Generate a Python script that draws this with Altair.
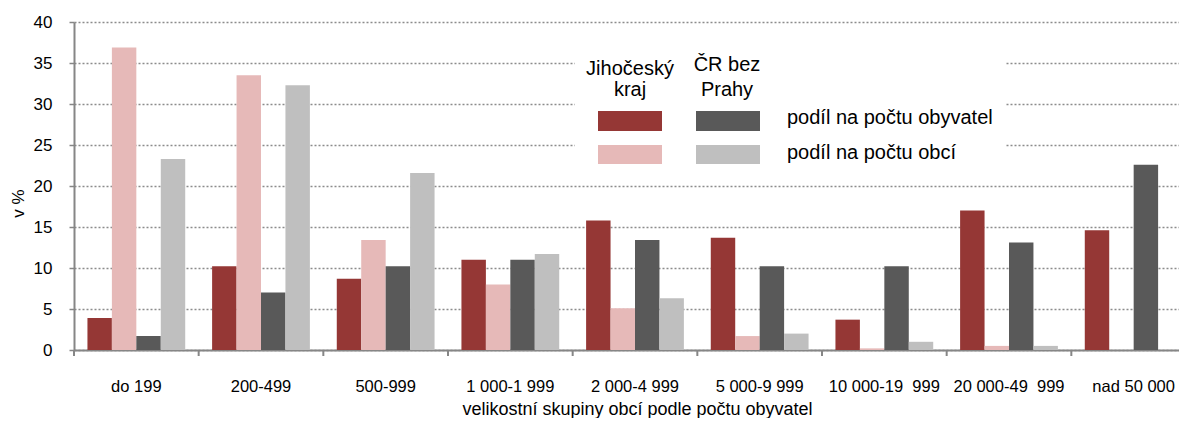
import altair as alt
import pandas as pd

categories = ["do 199", "200-499", "500-999", "1 000-1 999", "2 000-4 999",
              "5 000-9 999", "10 000-19\u00a0 999", "20 000-49\u00a0 999", "nad 50 000"]
series = ["Jihočeský kraj – podíl na počtu obyvatel",
          "Jihočeský kraj – podíl na počtu obcí",
          "ČR bez Prahy – podíl na počtu obyvatel",
          "ČR bez Prahy – podíl na počtu obcí"]
colors = ["#953735", "#E6B9B8", "#595959", "#BFBFBF"]

jc_obyv = [3.9, 10.2, 8.7, 11.0, 15.8, 13.7, 3.7, 17.0, 14.6]
jc_obce = [36.9, 33.5, 13.4, 8.0, 5.1, 1.7, 0.2, 0.5, 0.0]
cr_obyv = [1.7, 7.0, 10.2, 11.0, 13.4, 10.2, 10.2, 13.1, 22.6]
cr_obce = [23.3, 32.3, 21.6, 11.7, 6.3, 2.0, 1.0, 0.5, 0.0]

rows = []
for vals, s in zip([jc_obyv, jc_obce, cr_obyv, cr_obce], series):
    for c, v in zip(categories, vals):
        rows.append({"cat": c, "series": s, "value": v})
df = pd.DataFrame(rows)

W, H = 1105, 328
FONT = "Liberation Sans"

xscale = alt.Scale(domain=categories, range=[0, 1122], paddingInner=0, paddingOuter=0)

bars = alt.Chart(df).mark_bar().encode(
    x=alt.X("cat:N", scale=xscale, sort=categories,
            title="velikostní skupiny obcí podle počtu obyvatel"),
    xOffset=alt.XOffset("series:N", sort=series,
                        scale=alt.Scale(domain=series, paddingInner=0, paddingOuter=0.55)),
    y=alt.Y("value:Q", scale=alt.Scale(domain=[0, 40], nice=False),
            title="v %", axis=alt.Axis(values=list(range(0, 41, 5)))),
    color=alt.Color("series:N", scale=alt.Scale(domain=series, range=colors), legend=None),
)

tick_df = pd.DataFrame({"cat": categories})
ticks = alt.Chart(tick_df).mark_rule(color="#868686", strokeWidth=2).encode(
    x=alt.X("cat:N", scale=xscale, sort=categories, bandPosition=0),
    y=alt.value(H), y2=alt.value(H + 6),
)

# legend (drawn as a small table in the plot)
leg_box = alt.Chart(pd.DataFrame({"a": [0]})).mark_rect(color="white").encode(
    x=alt.value(501), x2=alt.value(931), y=alt.value(8), y2=alt.value(150))

sw_df = pd.DataFrame({
    "series": series,
    "x0": [524, 524, 622, 622], "x1": [588, 588, 686, 686],
    "y0": [89, 123, 89, 123], "y1": [109, 142, 109, 142],
})
swatches = alt.Chart(sw_df).mark_rect().encode(
    x=alt.X("x0:Q", scale=None, axis=None), x2="x1",
    y=alt.Y("y0:Q", scale=None, axis=None), y2="y1",
    color=alt.Color("series:N", scale=alt.Scale(domain=series, range=colors), legend=None),
)

hdr_df = pd.DataFrame({
    "t": ["Jihočeský", "kraj", "ČR bez", "Prahy"],
    "x": [556, 556, 653, 653],
    "y": [47, 68, 43, 68],
})
lbl_df = pd.DataFrame({
    "t": ["podíl na počtu obyvatel", "podíl na počtu obcí"],
    "x": [713, 713],
    "y": [96, 131],
})
hdr = alt.Chart(hdr_df).mark_text(font=FONT, fontSize=20, color="#000", align="center", baseline="middle").encode(
    x=alt.X("x:Q", scale=None, axis=None), y=alt.Y("y:Q", scale=None, axis=None), text="t:N")
lbl = alt.Chart(lbl_df).mark_text(font=FONT, fontSize=20, color="#000", align="left", baseline="middle").encode(
    x=alt.X("x:Q", scale=None, axis=None), y=alt.Y("y:Q", scale=None, axis=None), text="t:N")

chart = alt.layer(bars, ticks, leg_box, swatches, hdr, lbl).resolve_scale(
    color="independent"
).properties(
    width=W, height=H, autosize=alt.AutoSizeParams(type="none"),
    padding={"left": 66, "top": 14, "right": 0, "bottom": 68},
).configure_view(stroke=None).configure_axisX(
    labelAngle=0, ticks=False, labelPadding=28, labelFontSize=16.5, titleFontSize=18,
    labelFont=FONT, titleFont=FONT, titleFontWeight="normal",
    labelColor="#000", titleColor="#000", domainColor="#868686", domainWidth=2,
    titleX=563, titleY=64, titleBaseline="alphabetic", grid=False,
).configure_axisY(
    grid=True, gridDash=[2, 2], gridColor="#8c8c8c", gridWidth=1.5,
    domainColor="#868686", domainWidth=2, tickColor="#868686", tickSize=5, tickWidth=1.5,
    labelPadding=17, labelFontSize=17, labelFont=FONT, labelColor="#000",
    titleFontSize=17, titleFont=FONT, titleFontWeight="normal", titleColor="#000",
    titleX=-56, titleY=181, titleAngle=270, titleBaseline="middle",
)

chart.save("out.html", embed_options={"renderer": "svg", "actions": False})
